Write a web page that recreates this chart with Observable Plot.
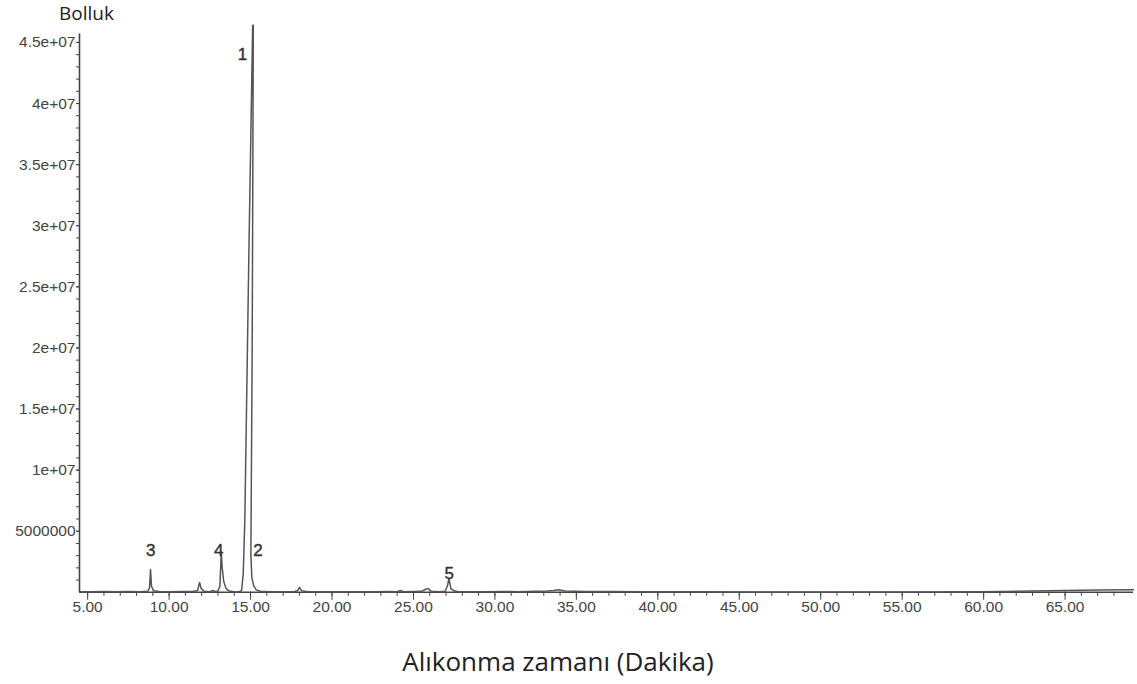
<!DOCTYPE html>
<html>
<head>
<meta charset="utf-8">
<script src="https://cdn.jsdelivr.net/npm/d3@7"></script>
<script src="https://cdn.jsdelivr.net/npm/@observablehq/plot@0.6"></script>
<style>
  html, body { margin: 0; padding: 0; background: #fff; }
  #wrap { position: relative; width: 1137px; height: 684px; overflow: hidden; }
  #ylab { position: absolute; left: 59px; top: 0px; font-family: "Open Sans", sans-serif; font-size: 19px; color: #222; }
  #xlab { position: absolute; left: 0; width: 1116px; text-align: center; top: 643px; font-family: "Open Sans", sans-serif; font-size: 26px; color: #222; }
</style>
</head>
<body>
<div id="wrap">
  <div id="chart"></div>
  <div id="ylab">Bolluk</div>
  <div id="xlab">Alıkonma zamanı (Dakika)</div>
</div>
<script>
// Retention time (minutes)
const times = [
  4.5, 5.3, 6.0, 6.8, 7.5, 8.2, 8.7, 8.8, 8.86, 8.92, 9.05, 9.4, 10.0, 10.8, 11.5,
  11.75, 11.87, 11.97, 12.15, 12.5, 12.7, 12.85, 13.0, 13.12, 13.2, 13.26, 13.35, 13.5,
  13.7, 14.0, 14.3, 14.45, 14.55, 14.65, 14.9, 15.13, 15.17, 15.1, 15.02, 15.08, 15.2,
  15.35, 15.6, 16.2, 17.0, 17.7, 17.9, 18.0, 18.15, 18.5, 19.5, 21, 22.5, 23.5, 24.0,
  24.2, 24.4, 25.0, 25.5, 25.75, 25.9, 26.1, 26.6, 26.95, 27.1, 27.18, 27.3, 27.45,
  27.7, 28.3, 29.2, 30.5, 31.5, 32.5, 33.2, 33.6, 33.9, 34.3, 35.5, 37, 39, 42, 46,
  50, 55, 60, 63, 65, 67, 69.2
];
// Abundance
const abundance = [
  50000, 50000, 60000, 50000, 60000, 50000, 80000, 400000, 1870000, 500000, 120000, 60000, 50000, 60000, 80000,
  150000, 800000, 300000, 80000, 50000, 150000, 50000, 120000, 500000, 3300000, 2000000, 900000, 300000,
  100000, 50000, 50000, 150000, 1500000, 6000000, 28000000, 46400000, 46400000, 20000000, 3000000, 1200000, 500000,
  200000, 80000, 50000, 50000, 60000, 150000, 400000, 120000, 50000, 40000, 50000, 40000, 60000, 50000,
  150000, 50000, 60000, 80000, 250000, 300000, 80000, 50000, 80000, 600000, 1130000, 300000, 150000,
  60000, 50000, 40000, 60000, 50000, 80000, 100000, 150000, 200000, 100000, 70000, 60000, 50000, 40000, 30000,
  20000, 20000, 50000, 100000, 150000, 180000, 200000
];

// Peak labels
const peakNames = ["1", "2", "3", "4", "5"];
const peakLabelTimes = [14.5, 15.45, 8.87, 13.05, 27.2];
const peakLabelValues = [44000000, 3400000, 3400000, 3400000, 1500000];

// Axis ticks
const xMajorTicks = [5, 10, 15, 20, 25, 30, 35, 40, 45, 50, 55, 60, 65];
const xMinorTicks = d3.range(5, 69, 1);
const yMajorTicks = [5000000, 10000000, 15000000, 20000000, 25000000, 30000000, 35000000, 40000000, 45000000];
const yTickLabels = ["5000000", "1e+07", "1.5e+07", "2e+07", "2.5e+07", "3e+07", "3.5e+07", "4e+07", "4.5e+07"];
const yMinorTicks = d3.range(1000000, 45500000, 1000000);

const signal = times.map((t, i) => ({t, a: abundance[i]}));
const labels = peakNames.map((n, i) => ({n, t: peakLabelTimes[i], v: peakLabelValues[i]}));

const ink = "#444";

const chart = Plot.plot({
  width: 1137,
  height: 684,
  marginLeft: 79,
  marginRight: 4,
  marginTop: 17.5,
  marginBottom: 92.2,
  style: {fontFamily: "Liberation Sans, Arial, sans-serif", fontSize: "15.5px", color: ink, background: "white"},
  x: {domain: [4.5, 69.2], axis: null},
  y: {domain: [0, 47000000], axis: null},
  marks: [
    Plot.axisX(xMinorTicks, {anchor: "bottom", tickSize: 4, label: null, tickFormat: () => "", stroke: ink}),
    Plot.axisX(xMajorTicks, {anchor: "bottom", tickSize: 8, tickPadding: 1, label: null,
      tickFormat: d => d.toFixed(2), stroke: ink, fill: ink}),
    Plot.axisY(yMinorTicks, {anchor: "left", tickSize: 3, label: null, tickFormat: () => "", stroke: ink}),
    Plot.axisY(yMajorTicks, {anchor: "left", tickSize: 3, tickPadding: 1, label: null,
      tickFormat: d => yTickLabels[yMajorTicks.indexOf(d)], stroke: ink, fill: ink}),
    Plot.ruleY([0], {x1: 4.5, x2: 69.2, stroke: ink, strokeWidth: 1.4}),
    Plot.ruleX([4.5], {y1: 0, y2: 45700000, stroke: ink, strokeWidth: 1.6}),
    Plot.line(signal, {x: "t", y: "a", stroke: "#555", strokeWidth: 1.5, curve: "linear"}),
    Plot.text(labels, {x: "t", y: "v", text: "n", fill: "#333", fontSize: 17,
      fontFamily: "Liberation Sans, Arial, sans-serif", stroke: "#333", strokeWidth: 0.4})
  ]
});
document.getElementById("chart").appendChild(chart);
</script>
</body>
</html>
